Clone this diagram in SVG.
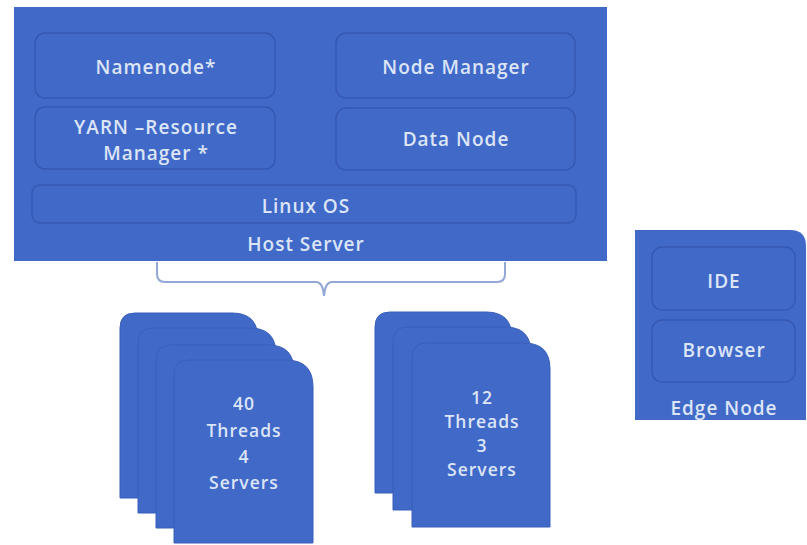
<svg xmlns="http://www.w3.org/2000/svg" width="807" height="545" viewBox="0 0 807 545">
<style>
.box{fill:#4169c8;}
.inner{fill:#4169c8;stroke:#3559b2;stroke-width:1.5;}
.card{fill:#4169c8;stroke:#3a5fba;stroke-width:1;}
text{font-family:"Open Sans","Noto Sans",sans-serif;font-weight:600;font-size:19px;letter-spacing:1px;fill:#dce5f7;text-anchor:middle;}
text.sm{font-size:17.5px;}
.brace{fill:none;stroke:#93a8d6;stroke-width:2;}
</style>
<rect width="807" height="545" fill="#ffffff"/>
<g id="host-server">
<rect class="box" x="14" y="7" width="593" height="254"/>
<text x="306" y="251">Host Server</text>
</g>
<g id="namenode">
<rect class="inner" x="35" y="33" width="240" height="65" rx="10"/>
<text x="156" y="74">Namenode*</text>
</g>
<g id="yarn">
<rect class="inner" x="35" y="107" width="240" height="62" rx="10"/>
<text x="156" y="134">YARN –Resource</text>
<text x="156" y="160">Manager *</text>
</g>
<g id="node-manager">
<rect class="inner" x="336" y="33" width="239" height="65" rx="10"/>
<text x="456" y="74">Node Manager</text>
</g>
<g id="data-node">
<rect class="inner" x="336" y="108" width="239" height="62" rx="10"/>
<text x="456" y="146">Data Node</text>
</g>
<g id="linux-os">
<rect class="inner" x="32" y="185" width="544" height="38" rx="8"/>
<text x="306" y="213">Linux OS</text>
</g>
<g id="connectors">
<path class="brace" d="M157,262 V274 Q157,282 165,282 H316 Q323,282 324,296 Q325,282 332,282 H497 Q505,282 505,274 V262"/>
</g>
<g id="stack-40">
<path class="card" d="M120,498 V328 Q120,313 135,313 H232 Q258,313 258,339 V498 Z"/>
<path class="card" d="M138,513 V343 Q138,328 153,328 H250 Q276,328 276,354 V513 Z"/>
<path class="card" d="M156,528 V360 Q156,345 171,345 H268 Q294,345 294,371 V528 Z"/>
<path class="card" d="M174,543 V375 Q174,360 189,360 H286 Q313,360 313,387 V543 Z"/>
<text class="sm" x="244" y="410">40</text>
<text class="sm" x="244" y="437">Threads</text>
<text class="sm" x="244" y="463">4</text>
<text class="sm" x="244" y="489">Servers</text>
</g>
<g id="stack-12">
<path class="card" d="M375,493 V327 Q375,312 390,312 H486 Q512,312 512,338 V493 Z"/>
<path class="card" d="M393,510 V342 Q393,327 408,327 H505 Q531,327 531,353 V510 Z"/>
<path class="card" d="M412,527 V358 Q412,343 427,343 H524 Q550,343 550,369 V527 Z"/>
<text class="sm" x="482" y="404">12</text>
<text class="sm" x="482" y="428">Threads</text>
<text class="sm" x="482" y="452">3</text>
<text class="sm" x="482" y="476">Servers</text>
</g>
<g id="edge-node">
<path class="box" d="M635,230 H790 Q806,230 806,246 V420 H635 Z"/>
<text x="724" y="415">Edge Node</text>
</g>
<g id="ide">
<rect class="inner" x="652" y="247" width="143" height="63" rx="10"/>
<text x="724" y="288">IDE</text>
</g>
<g id="browser">
<rect class="inner" x="652" y="320" width="143" height="62" rx="10"/>
<text x="724" y="357">Browser</text>
</g>
</svg>
